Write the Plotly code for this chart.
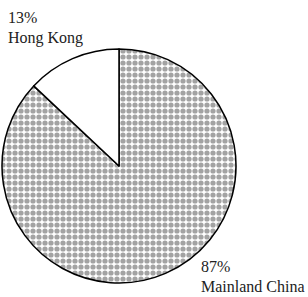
import plotly.graph_objects as go

labels = ["Hong Kong", "Mainland China"]
values = [13, 87]

W, H = 308, 297
cx, cy, r = 119, 166, 117

order = [1, 0]  # draw Mainland first clockwise so Hong Kong ends at 12 o'clock
fig = go.Figure(go.Pie(
    labels=[labels[i] for i in order],
    values=[values[i] for i in order],
    sort=False,
    direction="clockwise",
    rotation=0,
    textinfo="none",
    hoverinfo="label+percent",
    showlegend=False,
    domain=dict(x=[(cx - r) / W, (cx + r) / W], y=[1 - (cy + r) / H, 1 - (cy - r) / H]),
    marker=dict(
        colors=["white", "white"],
        line=dict(color="black", width=1.5),
        pattern=dict(shape=[".", ""], fgcolor="#a3a3a3", bgcolor="white", size=6, solidity=0.6),
    ),
))

font = dict(family="Liberation Serif, Times New Roman, serif", size=16, color="#222222")
pos = {"Hong Kong": (7, 8), "Mainland China": (200, 257)}
for lab, val in zip(labels, values):
    x, y = pos[lab]
    fig.add_annotation(x=x / W, y=1 - y / H, xref="paper", yref="paper",
                       xanchor="left", yanchor="top", align="left", showarrow=False,
                       borderpad=0, text=f"{val}%", font=font)
    fig.add_annotation(x=x / W, y=1 - (y + 20) / H, xref="paper", yref="paper",
                       xanchor="left", yanchor="top", align="left", showarrow=False,
                       borderpad=0, text=lab, font=font)

fig.update_layout(width=W, height=H, margin=dict(l=0, r=0, t=0, b=0),
                  paper_bgcolor="white", plot_bgcolor="white")
fig.write_html("out.html", config={"displayModeBar": False},
               post_script="document.body.style.margin='0';")
